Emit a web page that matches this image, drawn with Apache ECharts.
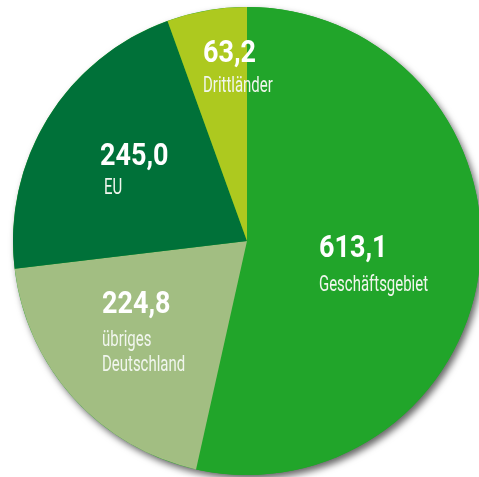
<!DOCTYPE html>
<html>
<head>
<meta charset="utf-8">
<script src="https://cdn.jsdelivr.net/npm/echarts@6/dist/echarts.min.js"></script>
<style>html,body{margin:0;padding:0;background:#fff;}#c{width:479px;height:477px;}</style>
</head>
<body>
<div id="c"></div>
<script>
const categories = ['Geschäftsgebiet', 'übriges\nDeutschland', 'EU', 'Drittländer'];
const values = [613.1, 224.8, 245.0, 63.2];
const valueLabels = ['613,1', '224,8', '245,0', '63,2'];
const colors = ['#21a52a', '#a2be82', '#007139', '#adc91f'];
// label anchor: left x, vertical middle of the value text, vertical middle of first name line
const labelAnchors = [[319, 249, 285], [102, 305.5, 340], [100, 157, 188], [203, 54.5, 86.5]];

const total = values.reduce((a, b) => a + b, 0);
const FONT = "Roboto, 'Liberation Sans', sans-serif";
const NUM_SCALE = 0.87, NAME_SCALE = 0.68, NAME_LINE = 25;

const labelGraphics = [];
categories.forEach((c, i) => {
  const [ax, ay, ny] = labelAnchors[i];
  labelGraphics.push({
    type: 'text', x: ax, y: ay, scaleX: NUM_SCALE, z: 10, silent: true,
    style: {text: valueLabels[i], x: 0, y: 0, fill: '#ffffff', font: 'bold 31px ' + FONT, textAlign: 'left', textVerticalAlign: 'middle'}
  });
  c.split('\n').forEach((line, k) => {
    labelGraphics.push({
      type: 'text', x: ax + (i === 2 ? 4 : 0), y: ny + k * NAME_LINE, scaleX: NAME_SCALE, z: 10, silent: true,
      style: {text: line, x: 0, y: 0, fill: '#f1f6ee', font: '22px ' + FONT, textAlign: 'left', textVerticalAlign: 'middle'}
    });
  });
});

const chart = echarts.init(document.getElementById('c'), null, {renderer: 'canvas'});
chart.setOption({
  animation: false,
  backgroundColor: '#ffffff',
  graphic: labelGraphics,
  series: [
    {
      type: 'pie',
      silent: true,
      z: 1,
      center: [247, 241],
      radius: 234,
      startAngle: 90,
      label: {show: false},
      labelLine: {show: false},
      itemStyle: {
        color: colors[0],
        shadowBlur: 7,
        shadowColor: 'rgba(0,0,0,0.6)',
        shadowOffsetX: 3,
        shadowOffsetY: 4
      },
      data: [{value: total, name: 'shadow'}]
    },
    {
      type: 'pie',
      z: 2,
      center: [247, 241],
      radius: 234,
      startAngle: 90,
      clockwise: true,
      itemStyle: {borderWidth: 0},
      label: {show: false},
      labelLine: {show: false},
      data: categories.map((c, i) => ({name: c, value: values[i], itemStyle: {color: colors[i]}}))
    }
  ]
});
</script>
</body>
</html>
